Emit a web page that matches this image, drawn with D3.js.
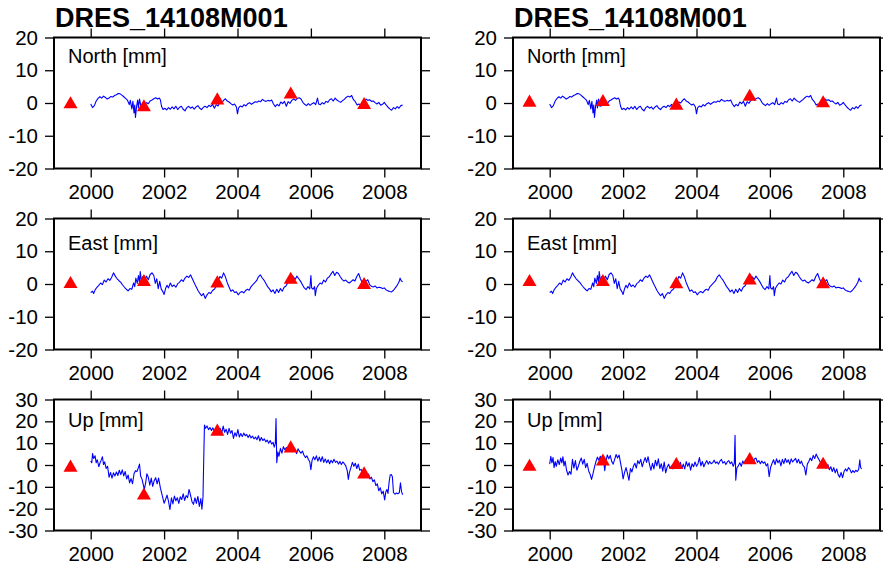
<!DOCTYPE html>
<html>
<head>
<meta charset="utf-8">
<script src="https://cdn.jsdelivr.net/npm/d3@7.9.0/dist/d3.min.js"></script>
<style>
  body { margin: 0; background: #fff; }
  svg text { font-family: "Liberation Sans", Helvetica, Arial, sans-serif; fill: #000; }
</style>
</head>
<body>
<svg id="chart" width="883" height="566"></svg>
<script>
// station name shown above each column
const stationName = "DRES_14108M001";
const componentLabels = ["North [mm]", "East [mm]", "Up [mm]"];
const xTicks = [2000, 2002, 2004, 2006, 2008];
const yTicksNE = [-20, -10, 0, 10, 20];
const yTicksUp = [-30, -20, -10, 0, 10, 20, 30];

// epochs of the red triangle markers
const markerYears = [1999.45, 2001.45, 2003.45, 2005.45, 2007.45];
const markersLeft = {
  north: [-0.4, -1.3, 0.8, 2.6, -0.6],
  east: [0.0, 0.6, 0.2, 1.3, -0.3],
  up: [-1.2, -14.0, 15.3, 7.6, -4.3]
};
const markersRight = {
  north: [0.1, 0.3, -0.8, 1.9, -0.1],
  east: [0.6, 0.6, -0.1, 1.1, -0.1],
  up: [-0.8, 1.6, 0.0, 2.2, 0.1]
};

// [decimal year, mm]
const northSeries = [
  [2000.0, -0.3], [2000.05, -1.4], [2000.1, -0.8], [2000.15, 0.6], [2000.2, 1.4], [2000.25, 1.9],
  [2000.3, 1.5], [2000.35, 2.1], [2000.4, 1.7], [2000.45, 1.2], [2000.5, 1.5], [2000.55, 2.0],
  [2000.6, 1.8], [2000.65, 2.3], [2000.7, 2.5], [2000.75, 2.9], [2000.8, 2.8], [2000.85, 2.4],
  [2000.9, 1.9], [2000.95, 1.4], [2001.0, 0.9], [2001.05, -0.5], [2001.08, 0.8], [2001.12, -1.8],
  [2001.15, 0.5], [2001.18, -3.0], [2001.2, -0.6], [2001.22, -4.4], [2001.25, -1.0], [2001.28, 0.9],
  [2001.3, -1.5], [2001.33, 1.2], [2001.37, -1.0], [2001.42, -0.8], [2001.47, -0.2], [2001.52, 0.1],
  [2001.57, -0.2], [2001.62, 0.6], [2001.67, 0.9], [2001.72, 1.3], [2001.77, 1.6], [2001.82, 1.2],
  [2001.87, 1.5], [2001.9, 0.9], [2001.93, -1.0], [2001.97, -2.0], [2002.02, -1.6], [2002.07, -2.1],
  [2002.12, -1.4], [2002.17, -1.9], [2002.22, -1.2], [2002.27, -1.8], [2002.32, -1.0], [2002.37, -2.0],
  [2002.42, -1.3], [2002.47, -1.0], [2002.52, -1.9], [2002.57, -2.4], [2002.62, -1.4], [2002.67, -1.0],
  [2002.72, -1.6], [2002.77, -1.2], [2002.82, -1.9], [2002.87, -1.2], [2002.92, -0.8], [2002.97, -1.6],
  [2003.02, -2.0], [2003.07, -1.3], [2003.12, -1.0], [2003.17, -1.4], [2003.22, -0.7], [2003.27, -1.1],
  [2003.32, -0.4], [2003.37, -1.6], [2003.42, -0.5], [2003.47, -0.9], [2003.52, 0.3], [2003.57, 0.0],
  [2003.62, 0.8], [2003.67, 1.3], [2003.72, 0.6], [2003.77, 0.3], [2003.82, -0.2], [2003.87, -0.6],
  [2003.92, -0.3], [2003.97, -1.2], [2004.0, -3.3], [2004.03, -1.5], [2004.08, -0.9], [2004.13, -1.2],
  [2004.18, -0.5], [2004.23, -0.9], [2004.28, -0.2], [2004.33, 0.1], [2004.38, -0.4], [2004.43, 0.0],
  [2004.48, 0.4], [2004.53, 0.2], [2004.58, 0.6], [2004.63, 0.4], [2004.68, 1.1], [2004.73, 0.7],
  [2004.78, 0.5], [2004.83, 0.8], [2004.88, 0.6], [2004.93, 0.9], [2004.98, -0.3], [2005.03, -1.1],
  [2005.08, -0.4], [2005.13, -0.9], [2005.18, 0.3], [2005.23, -0.2], [2005.28, 0.5], [2005.33, -1.0],
  [2005.38, 0.4], [2005.43, -0.1], [2005.48, 0.8], [2005.53, 1.2], [2005.58, 0.8], [2005.63, 1.4],
  [2005.68, 1.6], [2005.73, 1.2], [2005.78, 0.2], [2005.83, -0.4], [2005.88, -0.8], [2005.93, -0.2],
  [2005.98, -0.7], [2006.03, -0.2], [2006.08, 0.1], [2006.13, -0.5], [2006.18, 1.5], [2006.21, -0.3],
  [2006.26, -0.5], [2006.31, 0.1], [2006.36, -0.3], [2006.41, 0.5], [2006.46, 0.2], [2006.51, 1.0],
  [2006.56, 1.3], [2006.61, 0.6], [2006.66, 1.5], [2006.71, 0.9], [2006.76, 0.5], [2006.81, 0.2],
  [2006.86, 0.7], [2006.91, 1.1], [2006.96, 1.7], [2007.01, 2.1], [2007.06, 1.8], [2007.11, 2.3],
  [2007.16, 1.0], [2007.21, 0.4], [2007.26, -0.6], [2007.31, -0.3], [2007.36, -0.9], [2007.41, -1.1],
  [2007.46, 0.0], [2007.5, 1.2], [2007.55, 0.8], [2007.6, 1.0], [2007.65, 0.5], [2007.7, 0.6],
  [2007.75, 0.1], [2007.8, -0.3], [2007.85, 0.2], [2007.9, -0.7], [2007.95, -0.4], [2008.0, 0.2],
  [2008.05, -0.6], [2008.1, -1.3], [2008.15, -1.8], [2008.2, -2.2], [2008.25, -1.4], [2008.3, -1.8],
  [2008.35, -1.1], [2008.4, -1.6], [2008.45, -0.8], [2008.5, -0.6]
];

const eastSeries = [
  [2000.0, -2.6], [2000.05, -2.2], [2000.08, -2.9], [2000.12, -1.8], [2000.17, -1.0], [2000.22, -0.4],
  [2000.27, 0.3], [2000.32, -0.2], [2000.37, 1.2], [2000.42, 0.6], [2000.47, 1.6], [2000.52, 1.1],
  [2000.57, 2.0], [2000.62, 3.4], [2000.67, 2.4], [2000.72, 1.6], [2000.77, 1.0], [2000.82, 0.5],
  [2000.87, -0.3], [2000.92, -1.0], [2000.97, -1.6], [2001.02, -2.1], [2001.07, -1.4], [2001.12, -1.6],
  [2001.17, 0.3], [2001.2, -0.8], [2001.23, 1.8], [2001.27, 0.2], [2001.3, 2.6], [2001.33, 0.5],
  [2001.35, 3.8], [2001.38, 1.0], [2001.42, 2.3], [2001.47, 1.2], [2001.52, 2.4], [2001.57, 1.3],
  [2001.62, 2.9], [2001.67, 3.4], [2001.72, 2.6], [2001.76, 0.2], [2001.8, 1.6], [2001.84, -1.4],
  [2001.88, 0.8], [2001.92, -1.5], [2001.97, -2.4], [2002.0, -3.2], [2002.04, -1.4], [2002.08, -0.4],
  [2002.12, -1.2], [2002.17, 0.3], [2002.22, -0.8], [2002.27, -0.3], [2002.32, -1.0], [2002.37, 0.1],
  [2002.42, 0.5], [2002.47, 1.3], [2002.52, 0.8], [2002.57, 1.8], [2002.62, 2.4], [2002.67, 2.0],
  [2002.72, 2.8], [2002.77, 1.6], [2002.82, 0.4], [2002.87, -0.8], [2002.92, -1.9], [2002.97, -2.8],
  [2003.02, -3.6], [2003.07, -2.9], [2003.12, -4.4], [2003.17, -3.3], [2003.22, -2.6], [2003.27, -2.9],
  [2003.32, -2.0], [2003.37, -1.6], [2003.42, -0.7], [2003.47, 0.8], [2003.52, 2.3], [2003.57, 1.8],
  [2003.62, 3.4], [2003.67, 2.2], [2003.72, 0.4], [2003.77, -0.9], [2003.82, -2.2], [2003.87, -1.8],
  [2003.92, -2.6], [2003.97, -2.4], [2004.02, -3.3], [2004.07, -2.6], [2004.12, -2.3], [2004.17, -2.7],
  [2004.22, -2.0], [2004.27, -1.6], [2004.32, -1.9], [2004.37, -0.8], [2004.42, -0.2], [2004.47, 0.4],
  [2004.52, 1.0], [2004.57, 2.2], [2004.62, 2.8], [2004.67, 1.9], [2004.72, 1.2], [2004.77, 0.2],
  [2004.82, -0.8], [2004.87, -1.5], [2004.92, -2.4], [2004.97, -1.8], [2005.02, -2.9], [2005.07, -1.6],
  [2005.12, -2.6], [2005.17, -1.4], [2005.22, -2.2], [2005.27, -1.0], [2005.32, -0.6], [2005.37, 0.4],
  [2005.42, 0.9], [2005.47, 1.5], [2005.52, 2.2], [2005.57, 1.4], [2005.62, 2.4], [2005.67, 1.6],
  [2005.72, 0.8], [2005.77, -0.2], [2005.82, -1.2], [2005.87, -1.7], [2005.92, -0.8], [2005.97, -1.5],
  [2006.0, 2.6], [2006.02, -1.2], [2006.06, -1.6], [2006.1, -0.8], [2006.12, -3.6], [2006.15, -1.4],
  [2006.2, -0.4], [2006.25, 0.3], [2006.3, 0.0], [2006.35, 1.2], [2006.4, 0.6], [2006.45, 1.8],
  [2006.5, 2.2], [2006.55, 3.1], [2006.6, 3.9], [2006.65, 2.6], [2006.7, 3.6], [2006.75, 3.2],
  [2006.8, 2.2], [2006.85, 1.4], [2006.9, 0.9], [2006.95, 1.2], [2007.0, 0.6], [2007.05, 0.3],
  [2007.1, 0.8], [2007.15, 1.3], [2007.2, 0.9], [2007.25, 2.3], [2007.3, 3.2], [2007.35, 1.6],
  [2007.4, 0.4], [2007.45, 1.4], [2007.5, 0.8], [2007.55, 1.3], [2007.6, -0.2], [2007.65, -0.7],
  [2007.7, -0.9], [2007.75, -0.6], [2007.8, -1.2], [2007.85, -1.0], [2007.9, -1.1], [2007.95, -1.4],
  [2008.0, -1.2], [2008.05, -1.8], [2008.1, -2.1], [2008.15, -2.3], [2008.2, -2.4], [2008.25, -1.9],
  [2008.3, -1.2], [2008.35, -0.4], [2008.4, 0.6], [2008.43, 1.8], [2008.46, 1.0], [2008.5, 0.7]
];

const upSeriesLeft = [
  [2000.0, 1.8], [2000.03, 1.0], [2000.05, 5.3], [2000.08, 3.0], [2000.12, 4.2], [2000.15, 1.0],
  [2000.18, 2.4], [2000.22, -0.8], [2000.25, 0.8], [2000.28, 2.0], [2000.32, 3.8], [2000.35, 0.2],
  [2000.38, 1.4], [2000.42, -1.6], [2000.46, -0.6], [2000.5, -5.6], [2000.54, -3.4], [2000.58, -6.0],
  [2000.62, -3.6], [2000.66, -5.0], [2000.7, -3.2], [2000.74, -4.8], [2000.78, -2.4], [2000.82, -4.4],
  [2000.86, -2.2], [2000.9, -5.0], [2000.94, -3.0], [2000.98, -6.4], [2001.02, -4.6], [2001.06, -8.2],
  [2001.1, -6.2], [2001.14, -8.6], [2001.18, -4.0], [2001.22, -2.6], [2001.26, -3.0], [2001.3, -1.2],
  [2001.33, 0.4], [2001.36, -5.0], [2001.4, -6.6], [2001.43, -8.8], [2001.46, -11.2], [2001.5, -8.0],
  [2001.53, -4.0], [2001.57, -5.6], [2001.61, -9.2], [2001.65, -6.0], [2001.69, -9.8], [2001.73, -7.2],
  [2001.77, -5.8], [2001.81, -8.6], [2001.85, -6.0], [2001.9, -10.6], [2001.95, -14.0], [2002.0, -17.5],
  [2002.04, -15.8], [2002.08, -13.8], [2002.12, -16.6], [2002.16, -20.4], [2002.2, -15.0], [2002.24, -17.8],
  [2002.28, -14.2], [2002.32, -16.4], [2002.36, -15.0], [2002.4, -17.6], [2002.44, -14.6], [2002.48, -15.8],
  [2002.52, -13.2], [2002.56, -16.2], [2002.6, -14.0], [2002.64, -15.0], [2002.68, -11.2], [2002.72, -13.8],
  [2002.76, -16.8], [2002.8, -18.0], [2002.84, -15.0], [2002.88, -17.6], [2002.92, -14.4], [2002.96, -19.0],
  [2003.0, -15.4], [2003.03, -20.2], [2003.06, -14.6], [2003.08, 3.0], [2003.1, 18.3], [2003.13, 16.8],
  [2003.17, 17.9], [2003.21, 16.2], [2003.25, 17.2], [2003.29, 15.8], [2003.33, 17.0], [2003.37, 15.5],
  [2003.41, 16.4], [2003.45, 17.6], [2003.49, 15.2], [2003.53, 16.8], [2003.57, 14.6], [2003.61, 17.8],
  [2003.65, 15.0], [2003.69, 16.4], [2003.73, 14.0], [2003.77, 16.8], [2003.81, 14.6], [2003.85, 15.8],
  [2003.89, 12.2], [2003.93, 14.8], [2003.97, 13.2], [2004.01, 16.2], [2004.05, 12.8], [2004.09, 14.4],
  [2004.13, 13.0], [2004.17, 14.6], [2004.21, 13.4], [2004.25, 14.0], [2004.29, 12.6], [2004.33, 13.8],
  [2004.37, 12.4], [2004.41, 13.2], [2004.45, 12.0], [2004.49, 12.8], [2004.53, 11.6], [2004.57, 13.4],
  [2004.61, 11.0], [2004.65, 12.6], [2004.69, 11.2], [2004.73, 12.0], [2004.77, 10.6], [2004.81, 11.4],
  [2004.85, 10.0], [2004.89, 11.2], [2004.93, 9.6], [2004.97, 10.4], [2005.0, 8.2], [2005.03, 9.8],
  [2005.05, 21.3], [2005.07, 1.0], [2005.1, 6.0], [2005.13, 4.0], [2005.17, 7.6], [2005.21, 5.4],
  [2005.25, 8.4], [2005.29, 7.0], [2005.33, 8.0], [2005.37, 6.8], [2005.41, 8.6], [2005.45, 7.4],
  [2005.49, 8.0], [2005.53, 6.6], [2005.57, 7.2], [2005.61, 5.2], [2005.65, 7.4], [2005.69, 6.2],
  [2005.73, 5.4], [2005.77, 6.4], [2005.81, 4.6], [2005.85, 3.4], [2005.89, 4.2], [2005.93, 2.6],
  [2005.97, 1.4], [2006.0, -2.2], [2006.03, 2.0], [2006.07, 3.8], [2006.11, 2.4], [2006.15, 4.2],
  [2006.19, 1.8], [2006.23, 3.6], [2006.27, 1.6], [2006.31, 3.8], [2006.35, 1.2], [2006.39, 2.8],
  [2006.43, 1.0], [2006.47, 2.4], [2006.51, 0.6], [2006.55, 2.2], [2006.59, 1.0], [2006.63, 2.6],
  [2006.67, 1.2], [2006.71, 1.8], [2006.75, 0.4], [2006.79, 1.6], [2006.83, 0.2], [2006.87, 1.4],
  [2006.91, 0.6], [2006.95, -0.4], [2006.99, -2.6], [2007.02, -6.6], [2007.05, -3.4], [2007.09, -1.2],
  [2007.13, 1.2], [2007.17, -0.6], [2007.21, 0.8], [2007.25, -1.6], [2007.29, 0.4], [2007.33, -2.4],
  [2007.37, -2.0], [2007.41, -3.4], [2007.45, -4.0], [2007.49, -3.0], [2007.53, -5.2], [2007.57, -4.2],
  [2007.61, -6.4], [2007.65, -5.6], [2007.69, -7.6], [2007.73, -6.8], [2007.77, -9.4], [2007.81, -8.6],
  [2007.85, -11.8], [2007.89, -10.4], [2007.93, -13.2], [2007.97, -12.0], [2008.01, -16.0], [2008.04, -12.4],
  [2008.07, -11.2], [2008.1, -13.0], [2008.13, -8.0], [2008.16, -4.6], [2008.19, -4.4], [2008.22, -5.4],
  [2008.25, -12.6], [2008.29, -13.4], [2008.33, -12.8], [2008.37, -13.2], [2008.41, -12.6], [2008.44, -8.2],
  [2008.47, -12.2], [2008.5, -13.6]
];

const upSeriesRight = [
  [2000.0, 0.4], [2000.03, 4.0], [2000.06, 1.0], [2000.09, 3.4], [2000.12, -1.2], [2000.15, 1.6],
  [2000.18, -0.6], [2000.22, 2.4], [2000.26, 0.2], [2000.3, 3.2], [2000.33, 1.0], [2000.36, 3.8],
  [2000.39, -0.4], [2000.42, 1.8], [2000.46, -2.4], [2000.5, -4.6], [2000.54, -3.0], [2000.58, -4.2],
  [2000.62, 2.6], [2000.66, -1.4], [2000.7, 2.0], [2000.74, -2.4], [2000.78, -0.6], [2000.82, 1.6],
  [2000.86, 3.2], [2000.9, 0.4], [2000.94, 2.6], [2000.98, -1.2], [2001.02, 0.8], [2001.06, -2.6],
  [2001.1, -4.2], [2001.14, -6.6], [2001.18, -4.0], [2001.22, -1.0], [2001.26, 1.6], [2001.3, 3.6],
  [2001.34, 2.2], [2001.38, 4.0], [2001.42, 1.2], [2001.46, 3.6], [2001.5, -2.6], [2001.53, 1.8],
  [2001.57, 4.6], [2001.61, 2.8], [2001.65, 4.4], [2001.69, 1.6], [2001.73, 0.4], [2001.77, 2.6],
  [2001.81, 4.8], [2001.85, 3.2], [2001.89, 4.6], [2001.93, 1.0], [2001.97, -2.6], [2002.0, -6.4],
  [2002.04, -3.4], [2002.08, -1.2], [2002.12, -4.0], [2002.16, -7.0], [2002.2, -1.6], [2002.24, -3.2],
  [2002.28, -0.6], [2002.32, 0.8], [2002.36, -1.4], [2002.4, 2.0], [2002.44, 0.6], [2002.48, 2.6],
  [2002.52, -0.8], [2002.56, 1.4], [2002.6, 3.4], [2002.64, 1.2], [2002.68, 3.8], [2002.72, 0.2],
  [2002.76, -2.4], [2002.8, 0.8], [2002.84, -1.8], [2002.88, 2.2], [2002.92, -0.4], [2002.96, 2.8],
  [2003.0, -1.6], [2003.04, 0.6], [2003.08, -2.8], [2003.12, 1.4], [2003.16, -3.6], [2003.2, -1.0],
  [2003.24, 0.4], [2003.28, -1.6], [2003.32, -0.4], [2003.36, -1.8], [2003.4, 0.2], [2003.44, -1.2],
  [2003.48, 1.4], [2003.52, -0.8], [2003.56, 1.2], [2003.6, -1.6], [2003.64, 0.4], [2003.68, -1.8],
  [2003.72, 1.6], [2003.76, -0.6], [2003.8, 1.0], [2003.84, -2.4], [2003.88, 0.6], [2003.92, -0.8],
  [2003.96, 1.4], [2004.0, -0.6], [2004.04, 0.6], [2004.08, 3.4], [2004.12, -0.4], [2004.16, 1.6],
  [2004.2, -0.8], [2004.24, 0.8], [2004.28, 2.0], [2004.32, 0.4], [2004.36, 1.6], [2004.4, 0.6],
  [2004.44, 1.0], [2004.48, 2.2], [2004.52, 0.8], [2004.56, 1.4], [2004.6, 0.4], [2004.64, 1.8],
  [2004.68, 2.6], [2004.72, 0.8], [2004.76, 1.6], [2004.8, 0.2], [2004.84, 1.4], [2004.88, 2.0],
  [2004.92, 0.6], [2004.96, 1.4], [2005.0, -0.6], [2005.03, 0.8], [2005.05, 13.6], [2005.07, -7.0],
  [2005.1, -1.4], [2005.14, -0.4], [2005.18, 1.0], [2005.22, -0.6], [2005.26, 1.8], [2005.3, 0.8],
  [2005.34, 2.4], [2005.38, 1.2], [2005.42, 2.6], [2005.46, 1.6], [2005.5, 2.0], [2005.54, 1.0],
  [2005.58, 2.8], [2005.62, 3.2], [2005.66, 1.2], [2005.7, 2.0], [2005.74, 0.6], [2005.78, 1.8],
  [2005.82, 0.8], [2005.86, 1.4], [2005.9, -0.4], [2005.94, 0.6], [2005.98, -5.4], [2006.02, -1.0],
  [2006.06, 0.8], [2006.1, 2.4], [2006.14, 0.2], [2006.18, 2.8], [2006.22, 1.0], [2006.26, 2.2],
  [2006.3, -0.4], [2006.34, 2.6], [2006.38, 0.6], [2006.42, 3.0], [2006.46, 1.2], [2006.5, 2.4],
  [2006.54, 0.4], [2006.58, 2.8], [2006.62, 1.4], [2006.66, 2.2], [2006.7, 3.0], [2006.74, 1.0],
  [2006.78, 2.6], [2006.82, 0.6], [2006.86, 1.8], [2006.9, -0.2], [2006.94, -1.0], [2006.98, -4.6],
  [2007.02, 0.4], [2007.06, 1.6], [2007.1, 3.2], [2007.14, 2.0], [2007.18, 4.4], [2007.22, 3.0],
  [2007.26, 5.0], [2007.3, 3.6], [2007.34, 2.4], [2007.38, 1.0], [2007.42, 2.0], [2007.46, -0.4],
  [2007.5, 0.8], [2007.54, -1.4], [2007.58, 0.2], [2007.62, -2.2], [2007.66, -0.8], [2007.7, -3.0],
  [2007.74, -1.2], [2007.78, -3.6], [2007.82, -1.8], [2007.86, -4.4], [2007.9, -5.6], [2007.94, -3.4],
  [2007.98, -5.8], [2008.02, -3.0], [2008.06, -1.8], [2008.1, -2.8], [2008.14, -1.2], [2008.18, -2.0],
  [2008.22, -3.6], [2008.26, -2.6], [2008.3, -3.4], [2008.34, -2.4], [2008.38, -3.0], [2008.42, -2.0],
  [2008.45, 2.4], [2008.47, -1.0], [2008.5, -1.8]
];

const columns = [
  { left: 54, title: stationName, series: [northSeries, eastSeries, upSeriesLeft], markers: markersLeft },
  { left: 513, title: stationName, series: [northSeries, eastSeries, upSeriesRight], markers: markersRight }
];
const rowTops = [37.5, 218.5, 399.5];
const labelDy = [25, 31, 27];
const panelW = 367, panelH = 131;

const svg = d3.select("#chart");

// plain hyphen for negative tick labels, as in the original plot
const fmt = d => String(d);

columns.forEach((col) => {
  svg.append("text")
    .attr("x", col.left + 1)
    .attr("y", 27)
    .attr("font-size", 27)
    .attr("font-weight", "bold")
    .text(col.title);

  const markerKeys = ["north", "east", "up"];
  col.series.forEach((data, row) => {
    const top = rowTops[row];
    const isUp = row === 2;
    const x = d3.scaleLinear().domain([1999, 2009]).range([col.left, col.left + panelW]);
    const y = d3.scaleLinear().domain(isUp ? [-30, 30] : [-20, 20]).range([top + panelH, top]);
    const yTicks = isUp ? yTicksUp : yTicksNE;

    const g = svg.append("g");

    // axes with outward ticks on all four sides
    const axB = g.append("g").attr("transform", `translate(0,${top + panelH})`)
      .call(d3.axisBottom(x).tickValues(xTicks).tickFormat(fmt).tickSize(9).tickPadding(7));
    const axT = g.append("g").attr("transform", `translate(0,${top})`)
      .call(d3.axisTop(x).tickValues(xTicks).tickFormat("").tickSize(9));
    const axL = g.append("g").attr("transform", `translate(${col.left},0)`)
      .call(d3.axisLeft(y).tickValues(yTicks).tickFormat(fmt).tickSize(9).tickPadding(7));
    const axR = g.append("g").attr("transform", `translate(${col.left + panelW},0)`)
      .call(d3.axisRight(y).tickValues(yTicks).tickFormat("").tickSize(9));
    [axB, axT, axL, axR].forEach(a => {
      a.select(".domain").remove();
      a.selectAll("line").attr("stroke", "#000").attr("stroke-width", 1.3);
      a.selectAll("text").attr("font-size", 20.5)
        .attr("font-family", "Liberation Sans, Helvetica, Arial, sans-serif").attr("fill", "#000");
    });

    const line = d3.line().x(d => x(d[0])).y(d => y(d[1]));
    g.append("path")
      .datum(data)
      .attr("d", line)
      .attr("fill", "none")
      .attr("stroke", "#0000ff")
      .attr("stroke-width", 1.1)
      .attr("stroke-linejoin", "round");

    const tri = d3.symbol().type(d3.symbolTriangle).size(85);
    g.selectAll("path.marker")
      .data(markerYears.map((t, i) => [t, col.markers[markerKeys[row]][i]]))
      .enter().append("path")
      .attr("class", "marker")
      .attr("d", tri)
      .attr("transform", d => `translate(${x(d[0])},${y(d[1])})`)
      .attr("fill", "#ff0000");

    g.append("rect")
      .attr("x", col.left).attr("y", top)
      .attr("width", panelW).attr("height", panelH)
      .attr("fill", "none").attr("stroke", "#000").attr("stroke-width", 2);

    g.append("text")
      .attr("x", col.left + 14)
      .attr("y", top + labelDy[row])
      .attr("font-size", 20)
      .text(componentLabels[row]);
  });
});
</script>
</body>
</html>
